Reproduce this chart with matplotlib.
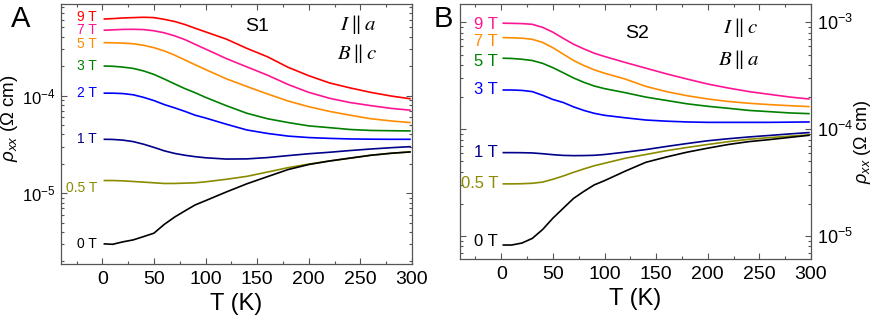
import numpy as np
import matplotlib
matplotlib.use("Agg")
import matplotlib.pyplot as plt
from matplotlib.ticker import LogLocator, FuncFormatter, MultipleLocator, NullFormatter

plt.rcParams['font.family'] = ['Liberation Sans', 'DejaVu Sans']
plt.rcParams['mathtext.fontset'] = 'custom'
plt.rcParams['mathtext.rm'] = 'Liberation Sans'
plt.rcParams['mathtext.it'] = 'Liberation Sans:italic'

# temperature grid (K)
T = [2, 10, 20, 30, 40, 50, 60, 70, 80, 90, 100, 120, 140, 160, 180, 200, 220, 240, 260, 280, 298]

# sample S1 (I || a, B || c), rho_xx in units of 1e-4 Ohm cm
s1_labels = ['9 T', '7 T', '5 T', '3 T', '2 T', '1 T', '0.5 T', '0 T']
s1_colors = ['#ff0000', '#ff1493', '#ff8c00', '#008000', '#0000ff', '#00008b', '#8b8b00', '#000000']
s1_9T = [6.1, 6.15, 6.25, 6.3, 6.35, 6.3, 6.05, 5.75, 5.35, 4.9, 4.5, 3.8, 3.05, 2.5, 1.95, 1.6, 1.35, 1.2, 1.08, 0.99, 0.93]
s1_7T = [4.68, 4.72, 4.77, 4.78, 4.75, 4.62, 4.4, 4.1, 3.75, 3.35, 3.0, 2.4, 1.97, 1.62, 1.3, 1.08, 0.94, 0.85, 0.79, 0.74, 0.71]
s1_5T = [3.49, 3.48, 3.45, 3.4, 3.28, 3.1, 2.87, 2.6, 2.32, 2.07, 1.85, 1.49, 1.24, 1.04, 0.88, 0.77, 0.69, 0.63, 0.58, 0.55, 0.53]
s1_3T = [2.01, 2.0, 1.96, 1.9, 1.79, 1.65, 1.48, 1.32, 1.18, 1.07, 0.96, 0.79, 0.66, 0.58, 0.53, 0.49, 0.47, 0.45, 0.44, 0.437, 0.435]
s1_2T = [1.06, 1.06, 1.05, 1.02, 0.96, 0.89, 0.81, 0.75, 0.69, 0.63, 0.59, 0.51, 0.445, 0.41, 0.385, 0.372, 0.365, 0.36, 0.358, 0.357, 0.357]
s1_1T = [0.357, 0.356, 0.35, 0.338, 0.318, 0.295, 0.272, 0.256, 0.245, 0.237, 0.231, 0.224, 0.225, 0.232, 0.243, 0.254, 0.263, 0.274, 0.284, 0.293, 0.30]
s1_05T = [0.135, 0.135, 0.134, 0.132, 0.13, 0.128, 0.126, 0.126, 0.127, 0.128, 0.131, 0.139, 0.149, 0.165, 0.183, 0.199, 0.214, 0.229, 0.245, 0.257, 0.265]
s1_0T = [0.0303, 0.030, 0.0318, 0.0333, 0.036, 0.039, 0.048, 0.057, 0.066, 0.076, 0.084, 0.103, 0.125, 0.148, 0.175, 0.197, 0.214, 0.229, 0.245, 0.257, 0.265]

# sample S2 (I || c, B || a), rho_xx in units of 1e-4 Ohm cm
s2_labels = ['9 T', '7 T', '5 T', '3 T', '1 T', '0.5 T', '0 T']
s2_colors = ['#ff1493', '#ff8c00', '#008000', '#0000ff', '#00008b', '#8b8b00', '#000000']
s2_9T = [9.83, 9.8, 9.75, 9.6, 9.0, 8.1, 7.1, 6.25, 5.65, 5.15, 4.8, 4.22, 3.73, 3.3, 2.95, 2.65, 2.43, 2.25, 2.12, 2.0, 1.92]
s2_7T = [7.2, 7.18, 7.12, 6.95, 6.5, 5.8, 5.05, 4.4, 3.95, 3.6, 3.35, 2.95, 2.52, 2.25, 2.06, 1.92, 1.82, 1.75, 1.7, 1.66, 1.63]
s2_5T = [4.62, 4.6, 4.52, 4.4, 4.14, 3.77, 3.38, 3.02, 2.75, 2.54, 2.4, 2.2, 2.0, 1.86, 1.73, 1.64, 1.57, 1.5, 1.46, 1.42, 1.40]
s2_3T = [2.33, 2.33, 2.31, 2.25, 2.08, 1.9, 1.78, 1.62, 1.5, 1.41, 1.35, 1.28, 1.22, 1.19, 1.17, 1.16, 1.16, 1.16, 1.16, 1.165, 1.17]
s2_1T = [0.604, 0.604, 0.603, 0.6, 0.59, 0.578, 0.569, 0.566, 0.567, 0.57, 0.58, 0.61, 0.645, 0.69, 0.735, 0.78, 0.815, 0.847, 0.875, 0.905, 0.93]
s2_05T = [0.308, 0.308, 0.309, 0.312, 0.32, 0.34, 0.365, 0.395, 0.425, 0.455, 0.48, 0.535, 0.58, 0.63, 0.675, 0.72, 0.765, 0.806, 0.835, 0.862, 0.885]
s2_0T = [0.0824, 0.0824, 0.086, 0.095, 0.115, 0.147, 0.182, 0.225, 0.262, 0.301, 0.33, 0.405, 0.49, 0.55, 0.61, 0.665, 0.72, 0.766, 0.80, 0.84, 0.877]

s1_data = [s1_9T, s1_7T, s1_5T, s1_3T, s1_2T, s1_1T, s1_05T, s1_0T]
s2_data = [s2_9T, s2_7T, s2_5T, s2_3T, s2_1T, s2_05T, s2_0T]

# small vertical nudges for the field labels (factor on the curve value)
s1_nudge = {'9 T': 1.04, '5 T': 0.97, '0.5 T': 0.83}
s2_nudge = {'9 T': 0.97, '7 T': 0.93, '5 T': 0.94, '0 T': 1.08}

fig = plt.figure(figsize=(8.72, 3.27), dpi=100)
axA = fig.add_axes([0.070, 0.193, 0.4025, 0.795])
axB = fig.add_axes([0.5275, 0.208, 0.4025, 0.780])

spine_col = '#555555'


def style(ax, ylim, right_labels, ysize):
    ax.set_yscale('log')
    ax.set_xlim(-40, 300)
    ax.set_ylim(*ylim)
    ax.xaxis.set_major_locator(MultipleLocator(50))
    ax.xaxis.set_minor_locator(MultipleLocator(25))
    ax.xaxis.set_major_formatter(FuncFormatter(lambda v, p: '%d' % v if v >= 0 else ''))
    ax.yaxis.set_major_locator(LogLocator(base=10, numticks=10))
    ax.yaxis.set_minor_locator(LogLocator(base=10, subs=np.arange(2, 10), numticks=20))
    ax.yaxis.set_major_formatter(FuncFormatter(lambda v, p: r'$10^{%d}$' % round(np.log10(v))))
    ax.yaxis.set_minor_formatter(NullFormatter())
    ax.tick_params(which='both', direction='in', top=True, right=True, color=spine_col, width=0.8)
    ax.tick_params(which='major', length=4)
    ax.tick_params(which='minor', length=2.5)
    ax.tick_params(axis='x', labelsize=14, pad=5)
    ax.tick_params(axis='y', labelsize=ysize, pad=4)
    if right_labels:
        ax.tick_params(axis='y', labelleft=False, labelright=True)
    for s in ax.spines.values():
        s.set_color(spine_col)
        s.set_linewidth(0.9)
    ax.set_xlabel('T (K)', fontsize=17, labelpad=4)


style(axA, (1.89e-6, 8.7e-4), False, 12)
style(axB, (6.1e-6, 1.49e-3), True, 13)

for vals, lab, col in zip(s1_data, s1_labels, s1_colors):
    y = np.array(vals) * 1e-4
    axA.plot(T, y, color=col, lw=1.2)
    axA.text(-5, y[0] * s1_nudge.get(lab, 1.0), lab, color=col, fontsize=10, ha='right', va='center')

for vals, lab, col in zip(s2_data, s2_labels, s2_colors):
    y = np.array(vals) * 1e-4
    axB.plot(T, y, color=col, lw=1.2)
    axB.text(-3, y[0] * s2_nudge.get(lab, 1.0), lab, color=col, fontsize=12, ha='right', va='center')

axA.set_ylabel(r'$\rho_{xx}$ (Ω cm)', fontsize=13.5)
axA.yaxis.set_label_coords(-0.117, 0.56)
axB.set_ylabel(r'$\rho_{xx}$ (Ω cm)', fontsize=13)
axB.yaxis.set_label_position('right')
axB.yaxis.set_label_coords(1.118, 0.46)

axA.text(0.558, 0.912, 'S1', transform=axA.transAxes, fontsize=14, ha='center', va='center')
axA.text(0.846, 0.919, r'$I\parallel a$', transform=axA.transAxes, fontsize=15,
         ha='center', va='center', math_fontfamily='stix')
axA.text(0.843, 0.81, r'$B\parallel c$', transform=axA.transAxes, fontsize=15,
         ha='center', va='center', math_fontfamily='stix')
axB.text(0.504, 0.886, 'S2', transform=axB.transAxes, fontsize=14, ha='center', va='center')
axB.text(0.80, 0.906, r'$I\parallel c$', transform=axB.transAxes, fontsize=15,
         ha='center', va='center', math_fontfamily='stix')
axB.text(0.795, 0.784, r'$B\parallel a$', transform=axB.transAxes, fontsize=15,
         ha='center', va='center', math_fontfamily='stix')

fig.text(21 / 872, 1 - 19 / 327, 'A', fontsize=21, ha='center', va='center')
fig.text(443 / 872, 1 - 19 / 327, 'B', fontsize=21, ha='center', va='center')

fig.savefig('out.png', dpi=100)
